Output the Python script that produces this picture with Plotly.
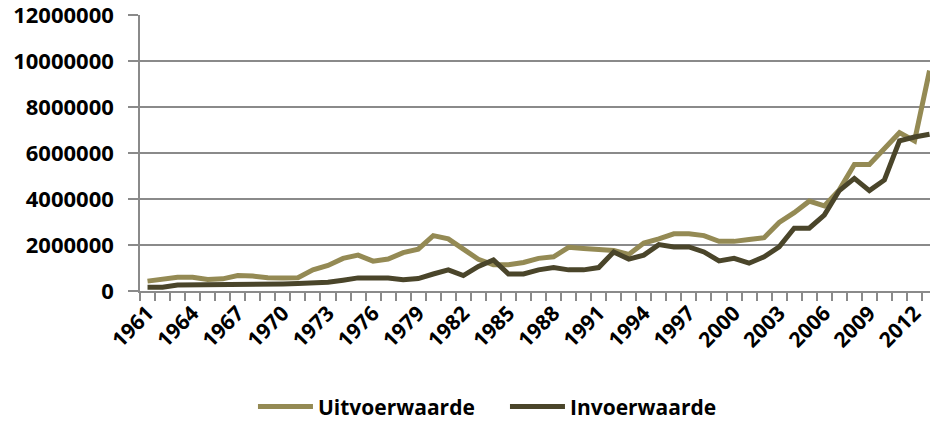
import plotly.graph_objects as go

years = list(range(1961, 2014))
uitvoer = [0.43, 0.50, 0.60, 0.60, 0.50, 0.53, 0.67, 0.65, 0.58, 0.57,
           0.58, 0.92, 1.11, 1.42, 1.56, 1.30, 1.39, 1.67, 1.82, 2.41,
           2.27, 1.82, 1.38, 1.14, 1.14, 1.24, 1.42, 1.49, 1.90, 1.85,
           1.78, 1.76, 1.59, 2.09, 2.27, 2.49, 2.49, 2.41, 2.16, 2.16,
           2.24, 2.32, 2.98, 3.41, 3.91, 3.70, 4.40, 5.51, 5.51, 6.18,
           6.89, 6.53, 9.59]
invoer = [0.16, 0.16, 0.26, 0.26, 0.26, 0.26, 0.26, 0.26, 0.26, 0.31,
          0.33, 0.33, 0.38, 0.47, 0.57, 0.57, 0.57, 0.49, 0.54, 0.74,
          0.92, 0.67, 1.07, 1.35, 0.74, 0.74, 0.92, 1.02, 0.92, 0.92,
          1.02, 1.70, 1.39, 1.56, 2.02, 1.92, 1.92, 1.70, 1.31, 1.42,
          1.21, 1.49, 1.92, 2.73, 2.73, 3.30, 4.37, 4.90, 4.37, 4.83,
          6.53, 6.70, 6.82]
uitvoer = [v * 1e6 for v in uitvoer]
invoer = [v * 1e6 for v in invoer]
y_ticks = [0, 2000000, 4000000, 6000000, 8000000, 10000000, 12000000]

cats = [str(y) for y in years]
labels = [str(y) if (y - 1961) % 3 == 0 else "" for y in years]

FONT = "Open Sans"
GRAY = "#8a8a8a"

fig = go.Figure()
fig.add_trace(go.Scatter(x=cats, y=uitvoer, mode="lines", name="<b>Uitvoerwaarde</b>",
                         line=dict(color="#948A54", width=5)))
fig.add_trace(go.Scatter(x=cats, y=invoer, mode="lines", name="<b>Invoerwaarde</b>",
                         line=dict(color="#4A452A", width=5)))

fig.update_layout(
    width=930, height=428,
    margin=dict(l=140, r=0, t=15, b=131),
    paper_bgcolor="white", plot_bgcolor="white",
    font=dict(family=FONT, color="black", size=21),
    showlegend=True,
    legend=dict(orientation="h", x=0.143, xanchor="left", y=-0.42, yanchor="middle",
                font=dict(size=21, family=FONT), itemwidth=55, entrywidth=182,
                traceorder="normal"),
)
fig.update_xaxes(
    type="category", range=[-0.5, 52.03], automargin=False,
    tickmode="array", tickvals=cats, ticktext=labels,
    tickson="boundaries", ticks="outside", ticklen=8, tickcolor=GRAY, tickwidth=1.5,
    tickangle=-45, tickfont=dict(size=21, family=FONT, weight="bold"),
    showline=True, linecolor=GRAY, linewidth=1.5,
    showgrid=False,
)
fig.update_yaxes(
    range=[0, 12010000], automargin=False,
    tickmode="array", tickvals=y_ticks,
    ticktext=[str(v) for v in y_ticks],
    ticks="outside", ticklen=10, tickcolor=GRAY, tickwidth=1.5,
    tickfont=dict(size=22, family=FONT, weight="bold"),
    showline=True, linecolor=GRAY, linewidth=1.5,
    showgrid=True, gridcolor=GRAY, gridwidth=1.5,
    zeroline=False, ticklabelstandoff=10, ticklabeloverflow="allow",
)

fig.write_html(
    "out.html",
    config={"displayModeBar": False},
    post_script="document.body.style.margin='0';document.body.style.overflow='hidden';",
)
